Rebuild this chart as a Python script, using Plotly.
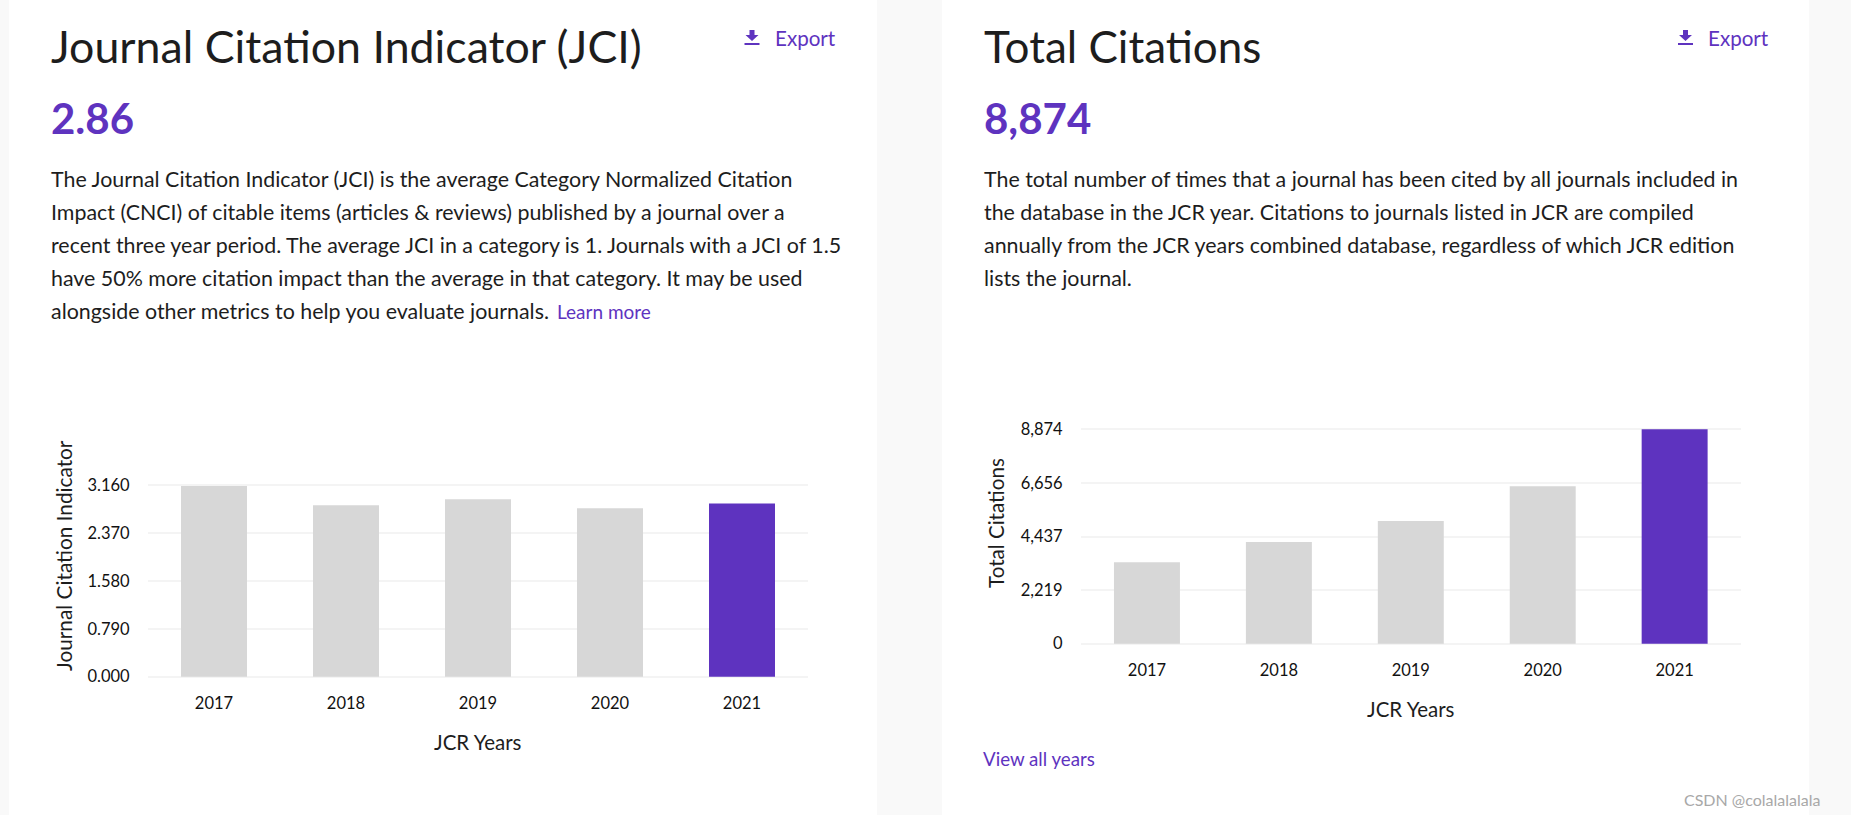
import plotly.graph_objects as go

W, H = 1851, 815
FONT = "Lato"
PURPLE = "#5e33bf"
GRAY = "#d7d7d7"
INK = "#1d1d1d"

years = ["2017", "2018", "2019", "2020", "2021"]
jci_values = [3.15, 2.83, 2.93, 2.78, 2.86]
jci_ticks = [0, 0.79, 1.58, 2.37, 3.16]
jci_ticktext = ["0.000", "0.790", "1.580", "2.370", "3.160"]
citation_values = [3369, 4209, 5078, 6515, 8874]
citation_ticks = [0, 2219, 4437, 6656, 8874]
citation_ticktext = ["0", "2,219", "4,437", "6,656", "8,874"]
bar_colors = [GRAY, GRAY, GRAY, GRAY, PURPLE]

left_lines = [
    "The Journal Citation Indicator (JCI) is the average Category Normalized Citation",
    "Impact (CNCI) of citable items (articles &amp; reviews) published by a journal over a",
    "recent three year period. The average JCI in a category is 1. Journals with a JCI of 1.5",
    "have 50% more citation impact than the average in that category. It may be used",
    "alongside other metrics to help you evaluate journals.",
]
right_lines = [
    "The total number of times that a journal has been cited by all journals included in",
    "the database in the JCR year. Citations to journals listed in JCR are compiled",
    "annually from the JCR years combined database, regardless of which JCR edition",
    "lists the journal.",
]


def px(x):
    return x / W


def py(y):
    return 1 - y / H


def label(x, y, text, size, color=INK, anchor="left", angle=0, bold=False):
    return dict(
        x=px(x), y=py(y), xref="paper", yref="paper", text=f"<b>{text}</b>" if bold else text,
        showarrow=False, xanchor=anchor, yanchor="middle", textangle=angle,
        font=dict(family=FONT, size=size, color=color), align="left",
        borderpad=0, borderwidth=0,
    )


def export_icon(x0, y0):
    # download glyph: arrow plus underline, in pixels from the top-left corner
    path = (f"M {x0+5} {y0} L {x0+10} {y0} L {x0+10} {y0+5} L {x0+14} {y0+5} "
            f"L {x0+7.5} {y0+11} L {x0+1} {y0+5} L {x0+5} {y0+5} Z")
    def conv(p):
        out, xy = [], 0
        for t in p.split():
            if t in "MLZ":
                out.append(t)
            else:
                out.append(f"{px(float(t)):.5f}" if xy == 0 else f"{py(float(t)):.5f}")
                xy = 1 - xy
        return " ".join(out)
    return [
        dict(type="path", xref="paper", yref="paper", path=conv(path),
             fillcolor=PURPLE, line=dict(width=0), layer="above"),
        dict(type="rect", xref="paper", yref="paper", x0=px(x0), x1=px(x0 + 15),
             y0=py(y0 + 15), y1=py(y0 + 13), fillcolor=PURPLE, line=dict(width=0), layer="above"),
    ]


fig = go.Figure()
fig.add_bar(x=years, y=jci_values, marker=dict(color=bar_colors, line=dict(width=0)),
            xaxis="x", yaxis="y", width=0.5, showlegend=False)
fig.add_bar(x=years, y=citation_values, marker=dict(color=bar_colors, line=dict(width=0)),
            xaxis="x2", yaxis="y2", width=0.5, showlegend=False)

tickfont = dict(family=FONT, size=16.5, color="#111111")
GRID = "#f4f4f4"
PAD = 3  # pixels of axis kept past the end ticks so that their gridlines are drawn


def xaxis(x0, x1, anchor):
    return dict(domain=[px(x0), px(x1)], anchor=anchor, type="category", tickfont=tickfont,
                showgrid=False, zeroline=False, showline=False, ticks="outside", automargin=False,
                ticklen=8, tickcolor="rgba(0,0,0,0)", fixedrange=True)


def yaxis(y_top, y_bot, anchor, ticks, text, top):
    unit = top / (y_bot - y_top)
    return dict(domain=[py(y_bot + PAD), py(y_top - PAD)], anchor=anchor,
                range=[-PAD * unit, top + PAD * unit], tickmode="array",
                tickvals=ticks, ticktext=text, tickfont=tickfont, showgrid=True, gridcolor=GRID,
                gridwidth=1.5, zeroline=False, showline=False, ticks="outside", ticklen=14,
                automargin=False, tickcolor="rgba(0,0,0,0)", fixedrange=True)


annotations = [
    label(51, 46, "Journal Citation Indicator (JCI)", 44.7),
    label(51, 118, "2.86", 42, PURPLE, bold=True),
    label(984, 46, "Total Citations", 44),
    label(984, 118, "8,874", 42, PURPLE, bold=True),
    label(775, 38, "Export", 20.6, PURPLE),
    label(1708, 38, "Export", 20.6, PURPLE),
    label(557, 311, "Learn more", 19, PURPLE),
    label(983, 759, "View all years", 18.7, PURPLE),
    label(63, 555, "Journal Citation Indicator", 20.8, anchor="center", angle=-90),
    label(996, 523, "Total Citations", 20.6, anchor="center", angle=-90),
    label(478, 742, "JCR Years", 20.5, anchor="center"),
    label(1411, 709, "JCR Years", 20.5, anchor="center"),
    label(1684, 799, "CSDN @colalalalala", 16, "#a8a8a8"),
]
for i, line in enumerate(left_lines):
    annotations.append(label(50.5, 179 + 33 * i, line, 21.4))
for i, line in enumerate(right_lines):
    annotations.append(label(984, 179 + 33 * i, line, 21.4))

shapes = [
    dict(type="rect", xref="paper", yref="paper", x0=px(9), x1=px(877), y0=0, y1=1,
         fillcolor="white", line=dict(width=0), layer="below"),
    dict(type="rect", xref="paper", yref="paper", x0=px(942), x1=px(1809), y0=0, y1=1,
         fillcolor="white", line=dict(width=0), layer="below"),
] + export_icon(744.5, 30) + export_icon(1678, 30)

fig.update_layout(
    width=W, height=H, autosize=False,
    margin=dict(l=0, r=0, t=0, b=0, pad=0),
    paper_bgcolor="#f9f9f9", plot_bgcolor="rgba(0,0,0,0)",
    bargap=0.5, showlegend=False,
    font=dict(family=FONT),
    xaxis=xaxis(148, 808, "y"),
    yaxis=yaxis(485.3, 676.7, "x", jci_ticks, jci_ticktext, 3.16),
    xaxis2=xaxis(1081, 1740.6, "y2"),
    yaxis2=yaxis(429.3, 643.7, "x2", citation_ticks, citation_ticktext, 8874),
    annotations=annotations,
    shapes=shapes,
)

fig.write_html(
    "out.html",
    config=dict(displayModeBar=False),
    post_script="document.body.style.margin='0';document.body.style.overflow='hidden';",
)
